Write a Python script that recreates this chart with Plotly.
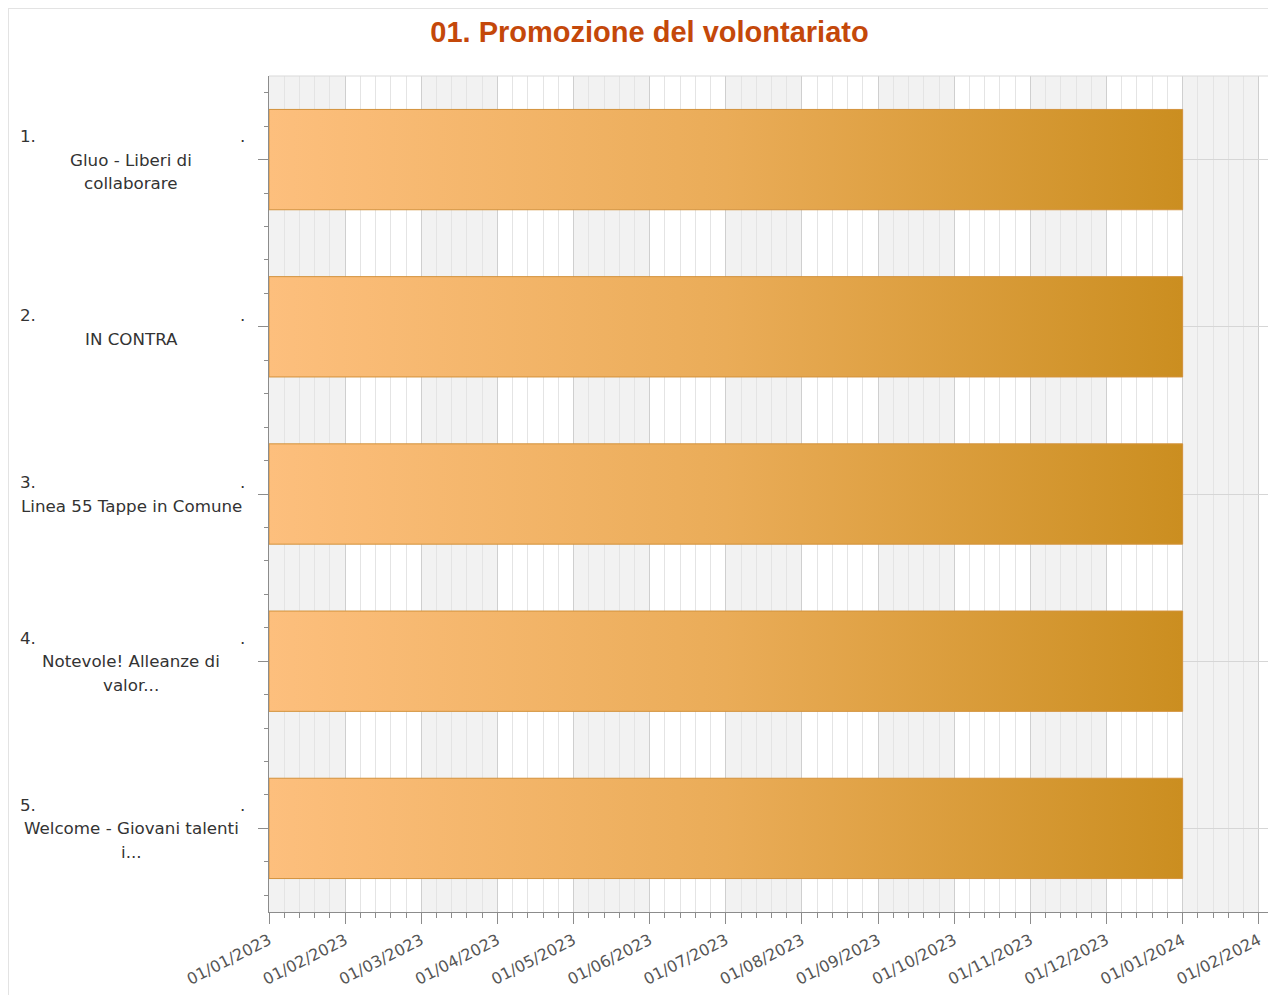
import calendar
import plotly.graph_objects as go

# ---------------- data ----------------
title_text = "01. Promozione del volontariato"
task_numbers = ["1.", "2.", "3.", "4.", "5."]
task_names = [
    "Gluo - Liberi di<br>collaborare",
    "IN CONTRA",
    "Linea 55 Tappe in Comune",
    "Notevole! Alleanze di<br>valor...",
    "Welcome - Giovani talenti<br>i...",
]
start_dates = ["2023-01-01", "2023-01-01", "2023-01-01", "2023-01-01", "2023-01-01"]
end_dates = ["2024-01-01", "2024-01-01", "2024-01-01", "2024-01-01", "2024-01-01"]
tick_dates = ["2023-01-01", "2023-02-01", "2023-03-01", "2023-04-01", "2023-05-01",
              "2023-06-01", "2023-07-01", "2023-08-01", "2023-09-01", "2023-10-01",
              "2023-11-01", "2023-12-01", "2024-01-01", "2024-02-01"]
tick_labels = ["01/01/2023", "01/02/2023", "01/03/2023", "01/04/2023", "01/05/2023",
               "01/06/2023", "01/07/2023", "01/08/2023", "01/09/2023", "01/10/2023",
               "01/11/2023", "01/12/2023", "01/01/2024", "01/02/2024"]
x_max_month = 13.2   # visible right edge of the timeline (in months)


def month_pos(s):
    y, m, d = (int(v) for v in s.split("-"))
    return (y - 2023) * 12 + (m - 1) + (d - 1) / calendar.monthrange(y, m)[1]


# ---------------- layout geometry ----------------
W, H = 1268, 987
ML, MR, MT, MB = 261, 2, 68, 83
PW = W - ML - MR
PH = H - MT - MB
BAR_H = 0.6
LABEL_FONT = dict(family="DejaVu Sans", size=16.7, color="#333333")
LINE_H = 23.5

fig = go.Figure()

# bars with horizontal gradient
for i, (s, e) in enumerate(zip(start_dates, end_dates)):
    x0, x1 = month_pos(s), month_pos(e)
    y0, y1 = i - BAR_H / 2, i + BAR_H / 2
    fig.add_trace(go.Scatter(
        x=[x0, x1, x1, x0, x0],
        y=[y0, y0, y1, y1, y0],
        mode="lines",
        fill="toself",
        fillgradient=dict(type="horizontal",
                          colorscale=[[0, "#FDBF7D"], [0.5, "#EAAC58"], [1, "#CB8E20"]],
                          start=x0, stop=x1),
        line=dict(color="#D3923C", width=1),
        hoverinfo="skip",
        showlegend=False,
    ))

shapes = []
# alternating month bands
n_months = int(x_max_month) + 1
for m in range(0, n_months, 2):
    shapes.append(dict(type="rect", xref="x", yref="paper", x0=m, x1=min(m + 1, x_max_month),
                       y0=0, y1=1, fillcolor="#F2F2F2", line=dict(width=0), layer="below"))
# top and right plot borders
shapes.append(dict(type="line", xref="paper", yref="paper", x0=0, x1=1, y0=1, y1=1,
                   line=dict(color="#D9D9D9", width=1)))
shapes.append(dict(type="line", xref="paper", yref="paper", x0=1, x1=1, y0=0, y1=1,
                   line=dict(color="#B5B5B5", width=1)))
# outer frame (top / left)
shapes.append(dict(type="line", xref="paper", yref="paper",
                   x0=(-ML + 0.5) / PW, x1=1 + MR / PW, y0=1 + (MT - 0.5) / PH, y1=1 + (MT - 0.5) / PH,
                   line=dict(color="#E3E3E3", width=1)))
shapes.append(dict(type="line", xref="paper", yref="paper",
                   x0=(-ML + 0.5) / PW, x1=(-ML + 0.5) / PW, y0=-MB / PH, y1=1 + MT / PH,
                   line=dict(color="#E3E3E3", width=1)))

# y labels as annotations
annotations = []
for i, (num, name) in enumerate(zip(task_numbers, task_names)):
    name_lines = name.split("<br>")
    n = 1 + len(name_lines)
    top_shift = (n - 1) / 2 * LINE_H
    annotations.append(dict(xref="paper", yref="y", x=0, y=i, text=num, showarrow=False,
                            xanchor="left", yanchor="middle", xshift=-251, yshift=top_shift,
                            font=LABEL_FONT))
    annotations.append(dict(xref="paper", yref="y", x=0, y=i, text=".", showarrow=False,
                            xanchor="center", yanchor="middle", xshift=-27, yshift=top_shift,
                            font=LABEL_FONT))
    for k, ln in enumerate(name_lines):
        annotations.append(dict(xref="paper", yref="y", x=0, y=i, text=ln, showarrow=False,
                                xanchor="center", yanchor="middle", xshift=-138,
                                yshift=top_shift - (k + 1) * LINE_H, font=LABEL_FONT))

fig.update_layout(
    width=W, height=H,
    margin=dict(l=ML, r=MR, t=MT, b=MB, pad=0, autoexpand=False),
    paper_bgcolor="white",
    plot_bgcolor="white",
    showlegend=False,
    title=dict(text=title_text, x=(649.5 - 8) / W, xanchor="center", y=1 - (32 - 8) / H,
               yanchor="middle",
               font=dict(family="Liberation Sans", size=29, color="#C4480A", weight="bold")),
    shapes=shapes,
    annotations=annotations,
)

fig.update_xaxes(
    range=[0, x_max_month],
    automargin=False,
    tickmode="array",
    tickvals=[month_pos(d) for d in tick_dates],
    ticktext=tick_labels,
    tickangle=-27,
    tickfont=dict(family="DejaVu Sans", size=16, color="#555555"),
    ticklabelstandoff=1,
    ticks="outside", ticklen=11, tickcolor="#8C8C8C", tickwidth=1,
    showline=True, linecolor="#8C8C8C", linewidth=1,
    showgrid=True, gridcolor="#CFCFCF", gridwidth=1,
    zeroline=False,
    minor=dict(dtick=0.2, tick0=0, ticks="outside", ticklen=5, tickcolor="#8C8C8C",
               showgrid=True, gridcolor="#E4E4E4", gridwidth=1),
    fixedrange=True,
)

fig.update_yaxes(
    range=[len(task_names) - 0.5, -0.5],
    automargin=False,
    tickmode="array",
    tickvals=list(range(len(task_names))),
    ticktext=[""] * len(task_names),
    ticks="outside", ticklen=10, tickcolor="#8C8C8C", tickwidth=1,
    showline=True, linecolor="#8C8C8C", linewidth=1,
    showgrid=True, gridcolor="#D6D6D6", gridwidth=1,
    zeroline=False,
    minor=dict(dtick=0.2, tick0=0, ticks="outside", ticklen=4, tickcolor="#8C8C8C",
               showgrid=False),
    fixedrange=True,
)

fig.write_html("out.html")
